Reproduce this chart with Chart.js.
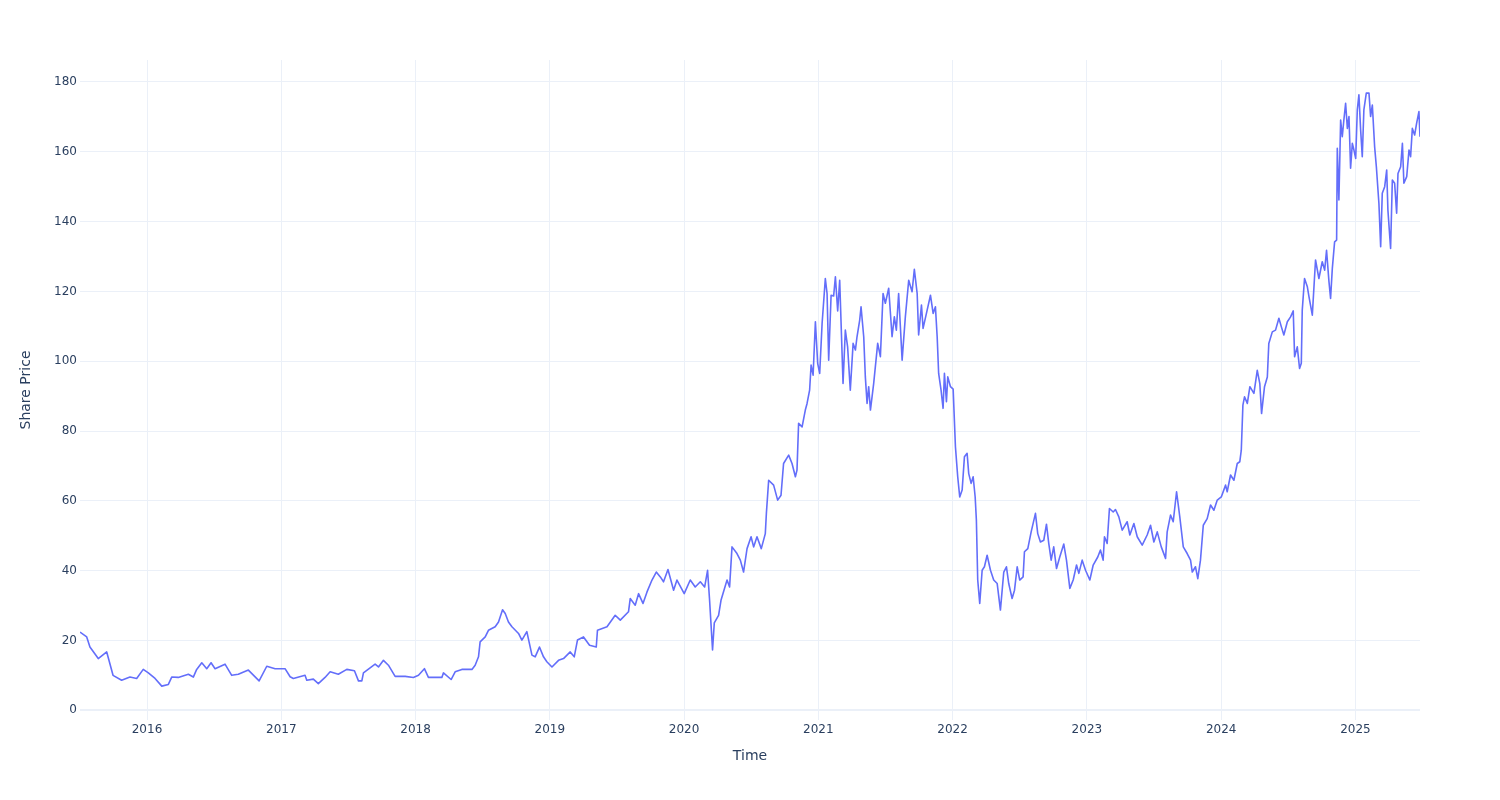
<!DOCTYPE html>
<html>
<head>
<meta charset="utf-8">
<script src="https://cdn.jsdelivr.net/npm/chart.js@4.4.1/dist/chart.umd.min.js"></script>
<style>
  html, body { margin: 0; padding: 0; background: #fff; }
  #chart { display: block; }
</style>
</head>
<body>
<canvas id="chart" width="1500" height="800"></canvas>
<script>
// time as decimal years
const years = [
  2015.501, 2015.551, 2015.575, 2015.637, 2015.700, 2015.747, 2015.811, 2015.873, 2015.923, 2015.972,
  2016.010, 2016.060, 2016.110, 2016.159, 2016.184, 2016.233, 2016.308, 2016.345, 2016.370, 2016.408,
  2016.445, 2016.477, 2016.507, 2016.581, 2016.631, 2016.680, 2016.755, 2016.835, 2016.892, 2016.954,
  2017.028, 2017.066, 2017.090, 2017.177, 2017.190, 2017.239, 2017.276, 2017.326, 2017.364, 2017.425,
  2017.488, 2017.545, 2017.575, 2017.600, 2017.612, 2017.699, 2017.724, 2017.761, 2017.798, 2017.848,
  2017.923, 2017.984, 2018.022, 2018.066, 2018.096, 2018.196, 2018.208, 2018.265, 2018.295, 2018.345,
  2018.420, 2018.444, 2018.469, 2018.481, 2018.519, 2018.543, 2018.593, 2018.618, 2018.648, 2018.668,
  2018.692, 2018.718, 2018.767, 2018.792, 2018.829, 2018.867, 2018.891, 2018.923, 2018.953, 2018.978,
  2019.016, 2019.065, 2019.102, 2019.152, 2019.182, 2019.206, 2019.251, 2019.296, 2019.346, 2019.355,
  2019.426, 2019.487, 2019.525, 2019.586, 2019.599, 2019.636, 2019.661, 2019.694, 2019.724, 2019.761,
  2019.793, 2019.823, 2019.847, 2019.880, 2019.922, 2019.947, 2020.001, 2020.046, 2020.083, 2020.121,
  2020.153, 2020.175, 2020.190, 2020.212, 2020.225, 2020.257, 2020.275, 2020.320, 2020.339, 2020.357,
  2020.394, 2020.419, 2020.443, 2020.469, 2020.499, 2020.518, 2020.543, 2020.575, 2020.605, 2020.613,
  2020.630, 2020.667, 2020.697, 2020.722, 2020.741, 2020.779, 2020.804, 2020.829, 2020.841, 2020.853,
  2020.879, 2020.903, 2020.916, 2020.935, 2020.946, 2020.961, 2020.978, 2020.995, 2021.010, 2021.028,
  2021.052, 2021.065, 2021.077, 2021.095, 2021.114, 2021.127, 2021.144, 2021.159, 2021.184, 2021.201,
  2021.218, 2021.238, 2021.259, 2021.276, 2021.288, 2021.308, 2021.318, 2021.338, 2021.350, 2021.363,
  2021.375, 2021.388, 2021.412, 2021.442, 2021.462, 2021.482, 2021.499, 2021.524, 2021.549, 2021.566,
  2021.581, 2021.598, 2021.624, 2021.648, 2021.673, 2021.698, 2021.715, 2021.736, 2021.747, 2021.768,
  2021.780, 2021.805, 2021.835, 2021.855, 2021.872, 2021.885, 2021.896, 2021.914, 2021.929, 2021.939,
  2021.954, 2021.964, 2021.984, 2022.004, 2022.021, 2022.038, 2022.053, 2022.071, 2022.088, 2022.108,
  2022.120, 2022.138, 2022.153, 2022.168, 2022.177, 2022.187, 2022.202, 2022.220, 2022.237, 2022.257,
  2022.282, 2022.306, 2022.332, 2022.356, 2022.381, 2022.401, 2022.418, 2022.443, 2022.461, 2022.481,
  2022.500, 2022.525, 2022.535, 2022.560, 2022.585, 2022.617, 2022.634, 2022.654, 2022.679, 2022.699,
  2022.716, 2022.734, 2022.753, 2022.774, 2022.798, 2022.828, 2022.848, 2022.873, 2022.898, 2022.923,
  2022.940, 2022.965, 2022.990, 2023.022, 2023.047, 2023.081, 2023.101, 2023.121, 2023.131, 2023.151,
  2023.168, 2023.196, 2023.213, 2023.238, 2023.263, 2023.300, 2023.320, 2023.350, 2023.375, 2023.412,
  2023.449, 2023.474, 2023.499, 2023.524, 2023.554, 2023.586, 2023.598, 2023.623, 2023.643, 2023.668,
  2023.692, 2023.718, 2023.747, 2023.772, 2023.785, 2023.809, 2023.826, 2023.846, 2023.867, 2023.896,
  2023.921, 2023.946, 2023.971, 2024.001, 2024.033, 2024.045, 2024.070, 2024.095, 2024.120, 2024.139,
  2024.150, 2024.162, 2024.174, 2024.195, 2024.214, 2024.244, 2024.269, 2024.288, 2024.301, 2024.323,
  2024.344, 2024.355, 2024.381, 2024.405, 2024.430, 2024.448, 2024.467, 2024.493, 2024.517, 2024.537,
  2024.547, 2024.567, 2024.584, 2024.597, 2024.604, 2024.621, 2024.642, 2024.654, 2024.679, 2024.703,
  2024.728, 2024.753, 2024.771, 2024.785, 2024.803, 2024.815, 2024.828, 2024.845, 2024.860, 2024.865,
  2024.877, 2024.890, 2024.902, 2024.914, 2024.927, 2024.940, 2024.952, 2024.964, 2024.977, 2024.989,
  2025.002, 2025.014, 2025.026, 2025.039, 2025.051, 2025.063, 2025.081, 2025.101, 2025.113, 2025.126,
  2025.143, 2025.156, 2025.175, 2025.188, 2025.200, 2025.218, 2025.233, 2025.242, 2025.262, 2025.275,
  2025.292, 2025.307, 2025.317, 2025.337, 2025.350, 2025.361, 2025.382, 2025.399, 2025.411, 2025.424,
  2025.441, 2025.456, 2025.473, 2025.481
];

// share price at each time above
const prices = [
  22.4, 21.0, 18.1, 14.8, 16.7, 10.0, 8.6, 9.5, 9.1, 11.7,
  10.7, 9.1, 6.9, 7.4, 9.5, 9.4, 10.3, 9.5, 11.7, 13.6,
  11.9, 13.6, 11.9, 13.2, 10.0, 10.3, 11.5, 8.4, 12.6, 11.9,
  11.9, 9.6, 9.1, 10.0, 8.6, 8.9, 7.6, 9.4, 11.0, 10.3,
  11.7, 11.3, 8.4, 8.4, 10.7, 13.2, 12.4, 14.3, 12.9, 9.7,
  9.7, 9.4, 10.0, 11.9, 9.4, 9.4, 10.7, 8.8, 11.0, 11.7,
  11.7, 12.9, 15.3, 19.6, 21.0, 22.9, 23.9, 25.3, 28.8, 27.7,
  25.3, 23.9, 22.0, 20.1, 22.5, 15.8, 15.3, 18.1, 15.3, 13.9,
  12.4, 14.3, 14.8, 16.7, 15.3, 20.1, 21.0, 18.6, 18.1, 22.9,
  23.9, 27.2, 25.8, 28.2, 32.0, 30.1, 33.4, 30.6, 33.9, 37.3,
  39.6, 38.2, 36.8, 40.3, 34.4, 37.3, 33.4, 37.3, 35.3, 36.8,
  35.3, 40.1, 31.5, 17.3, 25.0, 27.2, 31.5, 37.3, 35.3, 46.8,
  44.9, 43.0, 39.6, 46.3, 49.7, 46.8, 49.7, 46.3, 50.6, 56.4,
  65.9, 64.5, 60.2, 61.6, 70.7, 73.1, 70.7, 66.9, 68.8, 82.2,
  81.2, 86.0, 87.9, 91.7, 98.9, 96.0, 111.3, 99.4, 96.5, 110.8,
  123.7, 119.4, 100.3, 118.9, 118.7, 124.2, 114.4, 123.2, 93.6, 108.9,
  104.1, 91.7, 105.1, 103.2, 107.0, 111.8, 115.6, 107.0, 95.5, 87.9,
  92.7, 86.0, 93.6, 105.1, 101.3, 119.4, 116.6, 120.9, 107.0, 112.7,
  108.9, 119.4, 100.3, 112.7, 123.2, 119.9, 126.3, 119.4, 107.5, 116.1,
  109.4, 113.7, 118.9, 113.7, 115.6, 107.0, 96.5, 91.7, 86.5, 96.5,
  88.4, 95.5, 92.7, 92.0, 75.5, 66.9, 61.1, 63.1, 72.6, 73.6,
  67.8, 65.0, 66.9, 61.1, 54.5, 37.3, 30.6, 40.1, 41.1, 44.4,
  40.1, 37.3, 36.3, 28.7, 39.6, 41.1, 36.3, 32.0, 34.4, 41.1,
  37.3, 38.2, 45.4, 46.3, 51.1, 56.4, 50.6, 48.2, 48.7, 53.3,
  47.8, 43.0, 46.8, 40.6, 43.9, 47.6, 43.0, 34.9, 37.3, 41.6,
  39.2, 43.0, 40.1, 37.3, 41.6, 43.9, 45.9, 43.0, 49.7, 47.8,
  57.8, 56.8, 57.5, 55.4, 51.6, 54.0, 50.2, 53.5, 49.7, 47.3,
  50.2, 53.0, 48.2, 51.1, 46.8, 43.5, 51.1, 55.9, 54.0, 62.6,
  55.4, 46.8, 44.9, 43.0, 39.6, 41.1, 37.7, 43.0, 53.0, 54.9,
  58.8, 57.3, 60.2, 61.1, 64.5, 62.6, 67.4, 65.9, 70.7, 71.2,
  74.5, 87.4, 89.8, 87.9, 92.7, 90.8, 97.4, 93.6, 85.0, 92.7,
  95.5, 105.1, 108.4, 108.9, 112.3, 109.9, 107.5, 111.3, 112.7, 114.4,
  101.3, 104.1, 97.9, 99.4, 114.6, 123.7, 121.3, 118.5, 113.2, 129.0,
  123.7, 128.5, 126.1, 131.8, 122.8, 118.0, 126.6, 134.2, 134.7, 161.0,
  146.2, 169.1, 164.3, 169.1, 173.9, 166.7, 170.1, 155.3, 162.4, 160.5,
  158.1, 172.0, 176.3, 166.2, 158.6, 172.0, 176.8, 176.8, 170.1, 173.4,
  161.5, 155.7, 145.2, 132.8, 148.1, 150.0, 154.8, 143.3, 132.3, 151.9,
  151.0, 142.4, 153.8, 155.7, 162.4, 151.0, 152.9, 160.5, 158.6, 166.7,
  164.8, 168.2, 171.5, 164.3
];

// axis ticks
const yearTicks = [2016, 2017, 2018, 2019, 2020, 2021, 2022, 2023, 2024, 2025];
const priceTicks = [0, 20, 40, 60, 80, 100, 120, 140, 160, 180];

const inkColor = '#2a3f5f';
const gridColor = '#ebf0f8';
const fontFamily = '"DejaVu Sans", Verdana, sans-serif';

const points = years.map((t, i) => ({ x: t, y: prices[i] }));

new Chart(document.getElementById('chart'), {
  type: 'line',
  data: {
    datasets: [{
      label: 'Share Price',
      data: points,
      borderColor: '#636efa',
      borderWidth: 1.6,
      pointRadius: 0,
      tension: 0,
      fill: false,
      borderJoinStyle: 'round'
    }]
  },
  options: {
    responsive: false,
    devicePixelRatio: 1,
    animation: false,
    layout: { padding: { top: 60, right: 80, left: 0, bottom: 0 } },
    plugins: { legend: { display: false }, tooltip: { enabled: false } },
    scales: {
      x: {
        type: 'linear',
        min: years[0],
        max: years[years.length - 1],
        afterFit: s => { s.height = 80; },
        afterBuildTicks: s => { s.ticks = yearTicks.map(v => ({ value: v })); },
        ticks: {
          color: inkColor,
          font: { family: fontFamily, size: 12 },
          padding: 3,
          maxRotation: 0,
          autoSkip: false,
          callback: v => String(v)
        },
        grid: { color: gridColor, lineWidth: 1, drawTicks: false },
        border: { display: false },
        title: {
          display: true,
          text: 'Time',
          color: inkColor,
          font: { family: fontFamily, size: 14 },
          padding: { bottom: 35 }
        }
      },
      y: {
        min: -2.8,
        max: 186.3,
        afterFit: s => { s.width = 80; },
        afterBuildTicks: s => { s.ticks = priceTicks.map(v => ({ value: v })); },
        ticks: {
          color: inkColor,
          font: { family: fontFamily, size: 12 },
          padding: 3,
          autoSkip: false,
          callback: v => String(v)
        },
        grid: {
          color: gridColor,
          lineWidth: ctx => (ctx.tick && ctx.tick.value === 0 ? 2 : 1),
          drawTicks: false
        },
        border: { display: false },
        title: {
          display: true,
          text: 'Share Price',
          color: inkColor,
          font: { family: fontFamily, size: 14 },
          padding: { top: 18 }
        }
      }
    }
  }
});
</script>
</body>
</html>
